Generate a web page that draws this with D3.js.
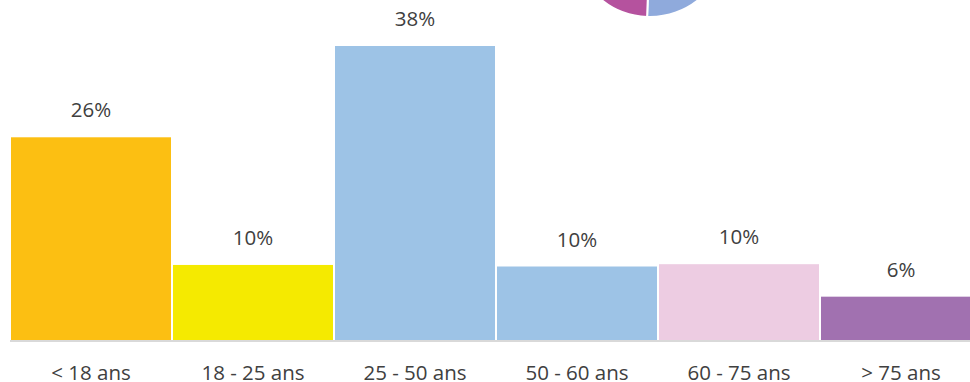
<!DOCTYPE html>
<html>
<head>
<meta charset="utf-8">
<script src="https://cdn.jsdelivr.net/npm/d3@7"></script>
<style>
html, body { margin: 0; padding: 0; background: #fff; overflow: hidden; }
svg { display: block; }
text { font-family: "Open Sans", sans-serif; fill: #404040; }
</style>
</head>
<body>
<svg id="chart" width="970" height="382"></svg>
<script>
// Data
const categories = ["< 18 ans", "18 - 25 ans", "25 - 50 ans", "50 - 60 ans", "60 - 75 ans", "> 75 ans"];
const values = [26.2, 9.7, 38.0, 9.5, 9.8, 5.6];
const barColors = ["#FCBF12", "#F5EA00", "#9DC3E6", "#EDCCE2", "#A171B0"];
const barColorIndex = [0, 1, 2, 2, 3, 4];

// Partially visible pie at the top
const pieValues = [50.6, 49.4];
const pieColors = ["#8FAADC", "#B5529E"];

const W = 970, H = 382;
const svg = d3.select("#chart");

// Pie (cut by top edge)
const pieCx = 650, pieCy = -60, pieR = 77;
const pie = d3.pie().sort(null)(pieValues);
const arc = d3.arc().innerRadius(0).outerRadius(pieR);
svg.append("g")
  .attr("transform", `translate(${pieCx},${pieCy})`)
  .selectAll("path")
  .data(pie)
  .join("path")
  .attr("d", arc)
  .attr("fill", (d, i) => pieColors[i])
  .attr("stroke", "#fff")
  .attr("stroke-width", 2);

// Bars
const x = d3.scaleBand()
  .domain(categories)
  .range([10, 10 + 6 * 162])
  .paddingInner(2 / 162)
  .paddingOuter(1 / 162);

const y = d3.scaleLinear().domain([0, 38]).range([340, 46]);

svg.append("g")
  .selectAll("rect")
  .data(values)
  .join("rect")
  .attr("x", (d, i) => x(categories[i]))
  .attr("y", d => y(d))
  .attr("width", x.bandwidth())
  .attr("height", d => y(0) - y(d))
  .attr("fill", (d, i) => barColors[barColorIndex[i]]);

// Baseline
svg.append("line")
  .attr("x1", 10).attr("x2", W)
  .attr("y1", y(0) + 1).attr("y2", y(0) + 1)
  .attr("stroke", "#D9D9D9")
  .attr("stroke-width", 2);

// Value labels
svg.append("g")
  .selectAll("text")
  .data(values)
  .join("text")
  .attr("x", (d, i) => x(categories[i]) + x.bandwidth() / 2)
  .attr("y", d => y(d) - 20)
  .attr("text-anchor", "middle")
  .style("font-size", "20.5px")
  .text(d => Math.round(d) + "%");

// Category labels
const xAxis = d3.axisBottom(x).tickSize(0).tickPadding(0);
const gx = svg.append("g")
  .attr("transform", `translate(0,${y(0)})`)
  .call(xAxis);
gx.select(".domain").remove();
gx.selectAll("text")
  .attr("dy", null)
  .attr("y", 40)
  .style("font-size", "20.5px")
  .style("font-family", "'Open Sans', sans-serif")
  .attr("fill", "#404040");
</script>
</body>
</html>
